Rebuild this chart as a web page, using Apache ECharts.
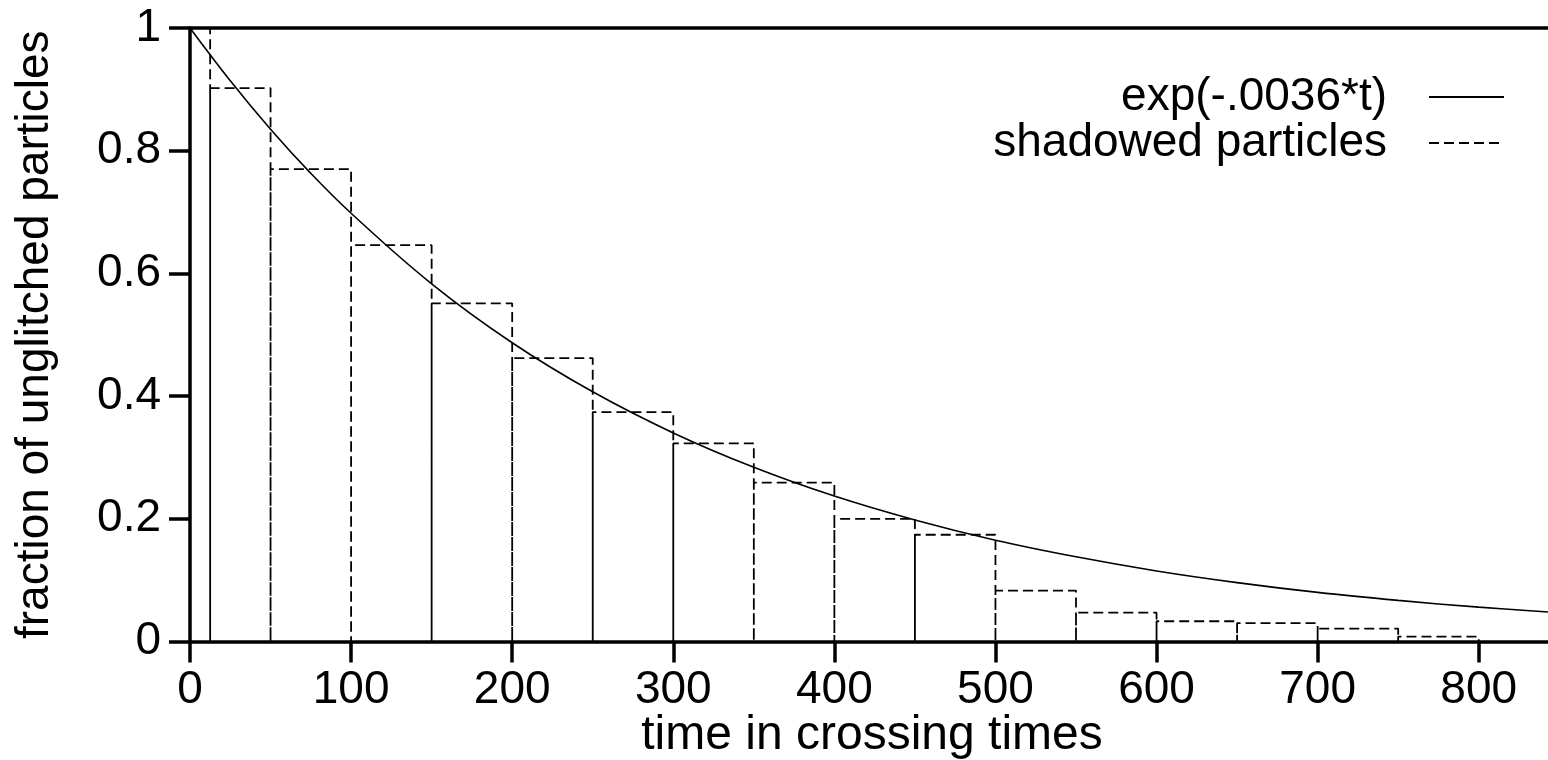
<!DOCTYPE html>
<html>
<head>
<meta charset="utf-8">
<script src="https://cdn.jsdelivr.net/npm/echarts@6/dist/echarts.min.js"></script>
<style>
html, body { margin: 0; padding: 0; background: #fff; }
#main { width: 1548px; height: 760px; }
</style>
</head>
<body>
<div id="main"></div>
<script>
var FONT = "'Liberation Sans', Arial, Helvetica, sans-serif";

// histogram of shadowed particles (bin edges + heights)
var binEdges = [0, 12.5, 50, 100, 150, 200, 250, 300, 350, 400, 450, 500, 550, 600, 650, 700, 750, 800];
var binHeights = [1, 0.902, 0.770, 0.646, 0.551, 0.462, 0.374, 0.323, 0.259, 0.200, 0.174, 0.083, 0.047, 0.033, 0.030, 0.021, 0.008];

// exp(-.0036*t) curve
var curveT = [0, 25, 50, 75, 100, 150, 200, 250, 300, 350, 400, 450, 500, 550, 600, 650, 700, 750, 800, 843];
var curveY = [1, 0.914, 0.835, 0.763, 0.698, 0.583, 0.487, 0.407, 0.340, 0.284, 0.237, 0.198, 0.165, 0.138, 0.115, 0.096, 0.080, 0.067, 0.056, 0.048];

var xTicks = [0, 100, 200, 300, 400, 500, 600, 700, 800];
var yTicks = [0, 0.2, 0.4, 0.6, 0.8, 1];

var myChart = echarts.init(document.getElementById('main'));

// outline of every box: up, across, down
var histPts = [];
for (var i = 0; i < binHeights.length; i++) {
    histPts.push([binEdges[i], 0]);
    histPts.push([binEdges[i], binHeights[i]]);
    histPts.push([binEdges[i + 1], binHeights[i]]);
    histPts.push([binEdges[i + 1], 0]);
}
var curvePts = curveT.map(function(t, k) { return [t, curveY[k]]; });

var option = {
    animation: false,
    backgroundColor: '#fff',
    textStyle: { fontFamily: FONT },
    grid: { left: 190, right: 0, top: 28, bottom: 118.5, containLabel: false, outerBoundsMode: 'none' },
    legend: {
        orient: 'vertical',
        right: 38,
        top: 69,
        align: 'right',
        itemWidth: 75,
        itemHeight: 14,
        itemGap: 0,
        selectedMode: false,
        itemStyle: { color: 'rgba(0,0,0,0)', borderWidth: 0, opacity: 0 },
        textStyle: { fontFamily: FONT, fontSize: 46, color: '#000', lineHeight: 44, padding: [0, 37, 0, 0] },
        data: ['exp(-.0036*t)', 'shadowed particles']
    },
    xAxis: [{
        type: 'value',
        min: 0,
        max: 843,
        interval: 100,
        splitLine: { show: false },
        axisLine: { lineStyle: { color: '#000', width: 3.5 } },
        axisTick: { length: 21, lineStyle: { color: '#000', width: 3.5 }, customValues: xTicks },
        axisLabel: { color: '#000', fontSize: 46, fontFamily: FONT, margin: 26, customValues: xTicks }
    }, {
        type: 'value',
        position: 'top',
        min: 0,
        max: 843,
        splitLine: { show: false },
        axisLine: { show: true, lineStyle: { color: '#000', width: 3.5 } },
        axisTick: { show: false },
        axisLabel: { show: false }
    }],
    yAxis: {
        type: 'value',
        min: 0,
        max: 1,
        interval: 0.2,
        splitLine: { show: false },
        axisLine: { show: true, lineStyle: { color: '#000', width: 3.5 } },
        axisTick: { length: 21, lineStyle: { color: '#000', width: 3.5 }, customValues: yTicks },
        axisLabel: { color: '#000', fontSize: 46, fontFamily: FONT, margin: 29, customValues: yTicks },
        name: 'fraction of unglitched particles',
        nameLocation: 'middle',
        nameGap: 132,
        nameTextStyle: { color: '#000', fontSize: 46, fontFamily: FONT }
    },
    graphic: [{
        type: 'text',
        x: 872,
        y: 736,
        style: { text: 'time in crossing times', font: '48px ' + FONT, fill: '#000', textAlign: 'center', textVerticalAlign: 'middle' }
    }],
    series: [{
        name: 'exp(-.0036*t)',
        type: 'line',
        data: curvePts,
        smooth: 0.4,
        showSymbol: false,
        symbol: 'none',
        color: '#000',
        lineStyle: { color: '#000', width: 1.6 },
        z: 3
    }, {
        name: 'shadowed particles',
        type: 'line',
        data: histPts,
        showSymbol: false,
        symbol: 'none',
        color: '#000',
        lineStyle: { color: '#000', width: 1.8, type: [10, 5] },
        z: 2
    }]
};

myChart.setOption(option);
</script>
</body>
</html>
